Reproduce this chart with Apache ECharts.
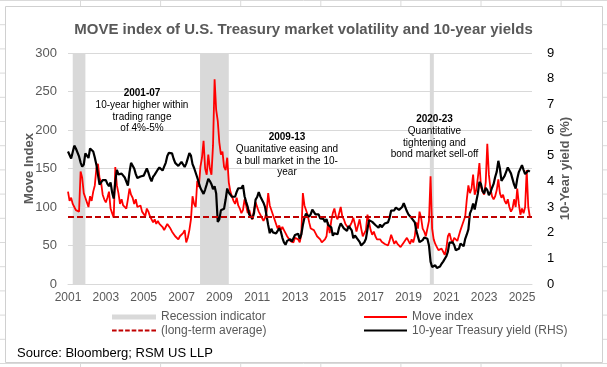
<!DOCTYPE html>
<html>
<head>
<meta charset="utf-8">
<script src="https://cdn.jsdelivr.net/npm/echarts@6/dist/echarts.min.js"></script>
<style>html,body{margin:0;padding:0;background:#fff;}#c{width:607px;height:367px;}</style>
</head>
<body>
<div id="c"></div>
<script>
// Monthly observations, Jan 2001 .. Jun 2025
const startYear = 2001;
const moveIndex = [
  120,108,112,104,100,96,98,94,146,138,118,112,
  106,100,114,108,120,128,150,156,138,132,116,110,
  106,112,120,98,92,86,152,128,118,104,110,102,
  104,98,110,124,116,112,104,110,100,98,102,94,
  92,88,98,94,88,86,80,84,78,82,78,76,
  74,70,74,78,76,72,68,66,62,64,58,62,
  62,66,70,54,60,70,84,114,104,100,134,126,
  152,164,186,150,142,168,150,142,180,266,226,212,
  184,168,172,152,148,164,132,120,114,108,104,112,
  102,98,92,96,110,102,92,96,88,84,96,106,
  100,94,90,86,82,86,94,118,102,96,90,84,
  78,72,76,70,74,70,66,62,60,56,58,54,
  60,62,58,54,64,118,102,96,90,80,72,74,
  70,66,62,60,58,54,56,58,62,80,66,82,
  92,98,88,84,92,100,88,84,78,76,72,76,
  80,86,78,68,66,84,72,62,66,70,90,80,
  70,64,68,62,58,56,58,55,53,52,54,50,
  56,64,58,52,56,52,50,48,47,54,56,60,
  58,52,58,54,62,80,72,94,86,72,68,62,
  62,82,140,72,58,52,48,44,42,46,45,38,
  46,62,66,58,54,60,62,56,58,70,76,78,
  88,110,128,118,124,142,116,122,138,157,126,120,
  116,132,182,142,124,114,110,114,122,136,118,112,
  116,108,104,110,100,94,98,110,100,124,104,90,
  98,92,100,148,100,87
];
const yield10 = [
  5.16,5.10,4.89,5.14,5.39,5.28,5.24,4.97,4.73,4.57,4.65,5.09,
  5.04,4.91,5.28,5.21,5.16,4.93,4.65,4.26,3.87,3.94,4.05,4.03,
  4.05,3.90,3.81,3.96,3.57,3.33,3.98,4.45,4.27,4.29,4.30,4.27,
  4.15,4.08,3.83,4.35,4.72,4.73,4.50,4.28,4.13,4.10,4.19,4.23,
  4.22,4.17,4.50,4.34,4.14,4.00,4.18,4.26,4.20,4.46,4.54,4.47,
  4.42,4.57,4.72,4.99,5.11,5.11,5.09,4.88,4.72,4.73,4.60,4.56,
  4.76,4.72,4.56,4.69,4.75,5.10,5.00,4.67,4.52,4.53,4.15,4.10,
  3.74,3.74,3.51,3.68,3.88,4.10,4.01,3.89,3.69,3.81,3.53,2.42,
  2.52,2.87,2.82,2.93,3.29,3.72,3.56,3.59,3.40,3.39,3.40,3.59,
  3.73,3.69,3.73,3.85,3.42,3.20,3.01,2.70,2.65,2.54,2.76,3.29,
  3.39,3.58,3.41,3.46,3.17,3.00,3.00,2.30,1.98,2.15,2.01,1.98,
  1.97,1.97,2.17,2.05,1.80,1.62,1.53,1.68,1.72,1.75,1.65,1.72,
  1.91,1.98,1.96,1.76,1.93,2.30,2.58,2.74,2.81,2.62,2.72,2.90,
  2.86,2.71,2.72,2.71,2.56,2.60,2.54,2.42,2.53,2.30,2.33,2.21,
  1.88,1.98,2.04,1.94,2.20,2.36,2.32,2.17,2.17,2.07,2.26,2.24,
  2.09,1.78,1.89,1.81,1.81,1.64,1.50,1.56,1.63,1.76,2.14,2.49,
  2.43,2.42,2.48,2.30,2.30,2.19,2.32,2.21,2.20,2.36,2.35,2.40,
  2.58,2.86,2.84,2.87,2.98,2.91,2.89,2.89,3.00,3.15,3.12,2.83,
  2.71,2.68,2.57,2.53,2.40,2.07,2.06,1.63,1.70,1.71,1.81,1.86,
  1.76,1.50,0.87,0.66,0.67,0.73,0.62,0.65,0.68,0.79,0.87,0.93,
  1.08,1.26,1.61,1.64,1.62,1.52,1.32,1.28,1.37,1.58,1.56,1.47,
  1.76,1.93,2.13,2.75,2.90,3.14,2.90,2.90,3.52,3.98,3.89,3.62,
  3.53,3.75,3.66,3.46,3.57,3.75,3.90,4.17,4.38,4.80,4.50,4.02,
  4.06,4.21,4.21,4.54,4.48,4.31,4.25,3.87,3.72,4.10,4.36,4.39,
  4.63,4.45,4.28,4.28,4.42,4.38
];
const longTermAverage = 87;
const recessions = [[2001.25, 2001.92], [2007.98, 2009.5], [2020.13, 2020.34]];
const xRange = [2001, 2025.53];
const leftTicks = [0, 300, 50];
const rightTicks = [0, 9, 1];

const monthX = moveIndex.map((_, i) => startYear + i / 12);
const moveData = moveIndex.map((v, i) => [monthX[i], v]);
const yieldData = yield10.map((v, i) => [monthX[i], v]);

const gray = '#595959';
const font = 'Liberation Sans, Arial, sans-serif';

// spreadsheet backdrop
const bg = [];
for (let k = 0; k < 8; k++) {
  const x = 80.5 + 80.1 * k;
  bg.push({type:'line', z:-100, silent:true, shape:{x1:x, y1:0, x2:x, y2:367}, style:{stroke:'#dadada', lineWidth:1}});
}
for (let k = 0; k < 16; k++) {
  const y = 0.5 + 24.2 * k;
  bg.push({type:'line', z:-100, silent:true, shape:{x1:0, y1:y, x2:607, y2:y}, style:{stroke:'#dadada', lineWidth:1}});
}
bg.push({type:'rect', z:-90, silent:true, shape:{x:5.5, y:6.5, width:597, height:356}, style:{fill:'#fff', stroke:'#d0d0d0', lineWidth:1}});

function note(x, y, lines) {
  return lines.map((t, i) => ({
    type:'text', z:100, silent:true,
    style:{text:t, x:x, y:y + i * 11.7, align:'center', verticalAlign:'middle',
      font:(i === 0 ? 'bold ' : '') + '10px ' + font, fill:'#000'}
  }));
}
const notes = [].concat(
  note(142, 93.5, ['2001-07', '10-year higher within', 'trading range', 'of 4%-5%']),
  note(287, 137.5, ['2009-13', 'Quanitative easing and', 'a bull market in the 10-', 'year']),
  note(434.5, 119.5, ['2020-23', 'Quantitative', 'tightening and', 'bond market sell-off'])
);
const source = {type:'text', z:100, silent:true, style:{text:'Source: Bloomberg; RSM US LLP', x:17, y:353, verticalAlign:'middle', font:'13px ' + font, fill:'#000'}};

const dashIcon = 'path://M0,0h4.5v2h-4.5z M6.4,0h4.5v2h-4.5z M12.8,0h4.5v2h-4.5z M19.2,0h4.5v2h-4.5z M25.6,0h4.5v2h-4.5z M32,0h4.5v2h-4.5z M38.4,0h4.5v2h-4.5z';
const barIcon = 'path://M0,0h44v5h-44z';
const lineIcon = 'path://M0,0h43v2.2h-43z';
const legendText = {color:gray, fontSize:12, fontFamily:font};

const chart = echarts.init(document.getElementById('c'), null, {renderer:'canvas'});
chart.setOption({
  animation:false,
  backgroundColor:'#fff',
  textStyle:{fontFamily:font},
  title:{text:'MOVE index of U.S. Treasury market volatility and 10-year yields', left:'center', top:17,
    textStyle:{fontSize:15, fontWeight:'bold', color:gray, fontFamily:font}},
  grid:{left:68, right:75, top:53, bottom:83, containLabel:false},
  legend:[
    {left:107, top:306, orient:'vertical', itemWidth:44, itemHeight:14, itemGap:1.5, selectedMode:false, textStyle:legendText,
      data:[{name:'Recession indicator', icon:barIcon}, {name:'(long-term average)', icon:dashIcon}]},
    {left:359, top:306, orient:'vertical', itemWidth:43, itemHeight:14, itemGap:1.5, selectedMode:false, textStyle:legendText,
      data:[{name:'Move index', icon:lineIcon}, {name:'10-year Treasury yield (RHS)', icon:lineIcon}]}
  ],
  xAxis:{type:'value', min:xRange[0], max:xRange[1], interval:1,
    axisLine:{lineStyle:{color:'#d9d9d9'}}, axisTick:{show:false}, splitLine:{show:false},
    axisLabel:{color:gray, fontSize:12, margin:8, showMaxLabel:false,
      formatter:v => (Number.isInteger(v) && v % 2 === 1) ? String(v) : ''}},
  yAxis:[
    {type:'value', min:leftTicks[0], max:leftTicks[1], interval:leftTicks[2],
      name:'Move Index', nameLocation:'middle', nameGap:32, nameMoveOverlap:false,
      nameTextStyle:{color:gray, fontSize:13, fontWeight:'bold'},
      axisLine:{show:false}, axisTick:{show:false},
      axisLabel:{color:gray, fontSize:13, margin:11},
      splitLine:{lineStyle:{color:'#d9d9d9'}}},
    {type:'value', min:rightTicks[0], max:rightTicks[1], interval:rightTicks[2], position:'right',
      name:'10-Year yield (%)', nameLocation:'middle', nameGap:27, nameMoveOverlap:false,
      nameTextStyle:{color:gray, fontSize:13, fontWeight:'bold'},
      axisLine:{show:false}, axisTick:{show:false},
      axisLabel:{color:'#000', fontSize:13, margin:15},
      splitLine:{show:false}}
  ],
  series:[
    {name:'Recession indicator', type:'line', data:[], color:'#d9d9d9', symbol:'none', silent:true,
      markArea:{silent:true, itemStyle:{color:'#d9d9d9'},
        data:recessions.map(r => [{xAxis:r[0]}, {xAxis:r[1]}])}},
    {name:'Move index', type:'line', data:moveData, color:'#ff0000', symbol:'none', z:3,
      lineStyle:{width:1.8, color:'#ff0000'}},
    {name:'10-year Treasury yield (RHS)', type:'line', yAxisIndex:1, data:yieldData, color:'#000', symbol:'none', z:4,
      lineStyle:{width:2.2, color:'#000'}},
    {name:'(long-term average)', type:'line', data:[[xRange[0], longTermAverage], [xRange[1], longTermAverage]],
      color:'#c00000', symbol:'none', z:5, lineStyle:{width:1.8, color:'#c00000', type:[6,3]}}
  ],
  graphic:{elements:bg.concat(notes, [source])}
});
</script>
</body>
</html>
